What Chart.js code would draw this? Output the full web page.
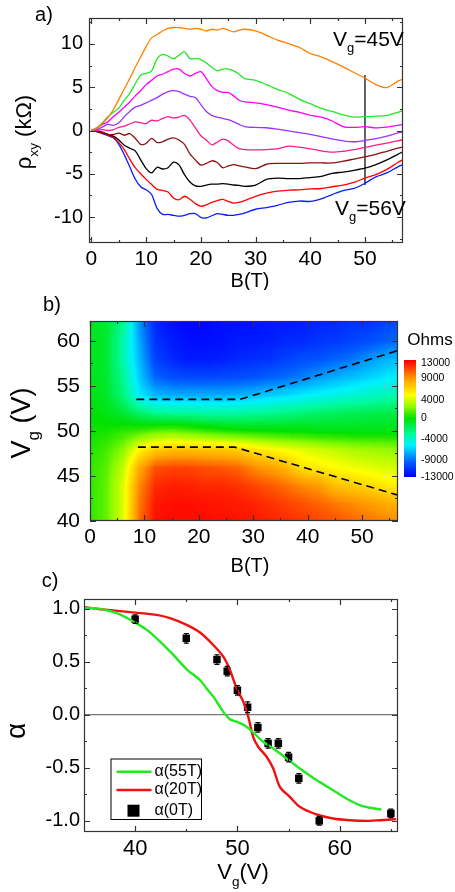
<!DOCTYPE html>
<html>
<head>
<meta charset="utf-8">
<script src="https://cdn.jsdelivr.net/npm/chart.js@4.4.1/dist/chart.umd.min.js"></script>
<style>
  html, body { margin: 0; padding: 0; background: #fff; }
  #page { position: relative; width: 455px; height: 892px; overflow: hidden; background: #fff; }
  canvas { position: absolute; left: 0; }
</style>
</head>
<body>
<div id="page">
  <canvas id="chartA" width="455" height="290" style="top:0px"></canvas>
  <canvas id="chartB" width="455" height="290" style="top:290px"></canvas>
  <canvas id="chartC" width="455" height="332" style="top:560px"></canvas>
</div>
<script>
// ---- panel a: rho_xy(B) for several gate voltages (kOhm) ----
const fieldB = [0,1,2,3,4,5,6,7,8,9,10,11,12,13,14,15,16,17,18,19,20,21,22,23,24,25,26,27,28,30,32,34,36,38,40,42,44,46,48,50,52,54,56,57];
const rhoOrange  = [0,0.3,0.8,1.5,2.4,3.6,4.8,6.0,7.3,8.5,9.7,10.7,11.1,11.5,11.8,11.9,11.9,11.8,11.7,11.8,11.7,11.5,11.7,11.6,11.8,11.6,11.4,11.6,11.7,11.5,11.0,10.45,10.05,9.6,8.9,8.5,7.95,7.35,6.7,6.05,5.3,4.95,5.7,5.95];
const rhoGreen   = [0,0.3,0.9,1.6,2.1,2.6,3.5,4.3,5.4,6.4,6.6,6.9,8.3,8.8,8.6,8.3,8.7,9.1,8.3,8.3,8.2,7.8,7.3,6.9,7.1,7.1,6.9,6.5,6.0,5.8,5.3,4.75,4.3,3.6,3.1,2.55,2.2,1.8,1.55,1.6,1.65,1.75,2.1,2.3];
const rhoMagenta = [0,0.3,0.7,1.0,1.6,2.1,2.7,3.3,4.0,4.6,5.3,5.8,6.3,6.5,6.8,7.1,7.1,6.6,6.3,6.6,6.8,6.0,5.1,4.6,4.4,4.4,4.0,3.5,3.3,3.2,3.0,2.7,2.35,2.1,1.75,1.55,1.1,0.45,0.35,0.45,0.3,0.4,0.6,0.7];
const rhoViolet  = [0,0.1,0.4,0.7,0.6,0.9,1.6,2.2,2.7,2.9,3.2,3.5,3.8,4.2,4.5,4.6,4.5,4.2,3.95,3.8,3.0,2.2,1.75,1.55,1.4,1.25,1.0,0.7,0.45,0.35,0.32,0.15,-0.05,-0.25,-0.45,-0.7,-0.98,-1.2,-1.3,-1.15,-0.95,-0.65,-0.28,-0.15];
const rhoPink    = [0,0,0.1,0,0.1,0.35,0.5,0.75,1.0,0.9,0.8,1.2,1.1,1.4,1.6,1.45,1.55,1.75,1.2,0.3,-0.6,-1.1,-1.65,-1.35,-1.0,-1.2,-1.7,-2.1,-2.2,-2.23,-2.2,-2.12,-1.8,-1.93,-2.12,-2.35,-2.5,-2.4,-2.2,-1.95,-1.7,-1.45,-1.2,-1.05];
const rhoBrown   = [0,-0.1,-0.25,-0.45,-0.45,-0.3,-0.55,-0.35,-0.9,-1.6,-1.5,-0.9,-1.4,-1.3,-1.0,-0.85,-1.1,-1.6,-2.7,-3.4,-4.0,-3.8,-3.5,-3.7,-4.3,-4.1,-3.95,-4.1,-4.2,-4.4,-3.9,-3.8,-3.8,-3.8,-3.75,-3.75,-3.75,-3.55,-3.3,-3.05,-2.75,-2.4,-2.05,-1.9];
const rhoBlack   = [0,-0.1,-0.2,-0.45,-0.65,-1.1,-1.7,-2.05,-2.35,-3.4,-4.4,-4.9,-4.25,-4.45,-4.3,-3.65,-3.97,-5.1,-5.95,-6.4,-6.45,-6.3,-6.2,-6.2,-6.15,-6.2,-6.3,-6.35,-6.45,-6.3,-5.65,-5.5,-5.55,-5.55,-5.45,-5.3,-4.95,-4.8,-4.6,-4.35,-3.95,-3.4,-2.75,-2.45];
const rhoRed     = [0,-0.1,-0.25,-0.5,-0.8,-1.4,-2.2,-3.3,-4.3,-5.0,-5.65,-6.25,-6.8,-6.93,-7.1,-7.8,-8.0,-7.6,-7.95,-8.45,-8.75,-8.6,-8.3,-8.1,-7.95,-8.2,-8.4,-8.3,-8.1,-7.6,-7.25,-7.0,-6.9,-6.85,-6.75,-6.7,-6.5,-6.3,-6.0,-5.5,-5.1,-4.5,-3.7,-3.35];
const rhoBlue    = [0,-0.15,-0.35,-0.6,-0.85,-1.6,-2.8,-4.2,-5.6,-6.5,-6.85,-7.4,-9.0,-9.7,-9.7,-9.8,-9.9,-9.8,-9.6,-9.6,-10.05,-10.1,-9.85,-9.6,-9.7,-9.8,-9.8,-9.7,-9.55,-9.1,-8.9,-8.65,-8.3,-8.15,-8.2,-7.9,-7.4,-6.95,-6.7,-6.1,-5.35,-4.9,-4.2,-3.9];
const markB = [50, 50];
const markRho = [6.4, -6.3];

// ---- panel b: rho_xy map (kOhm), rows from Vg = 62 V down to 40 V ----
const heatB = [0,3,6,9,12,15,18,21,24,27,30,33,36,39,42,45,48,51,54,57];
const heatV = [62,60,58,56,54,52,50,48,46,44,42,40];
const rhoV62 = [-0.5,-1,-3,-8,-11.5,-12.5,-12.8,-12.8,-12.5,-12.5,-12.3,-12,-12,-11.8,-11.5,-11.3,-11,-11,-10.5,-10];
const rhoV60 = [-0.5,-1,-3.5,-7.5,-11,-12,-12.5,-12.5,-12.3,-12,-12,-11.8,-11.5,-11.3,-11,-10.8,-10.5,-10,-9.5,-9];
const rhoV58 = [-0.5,-1,-3.5,-7,-10.5,-11.5,-12,-12,-11.8,-11.5,-11.2,-11,-10.5,-10,-9.8,-9.3,-8.8,-8,-7.3,-6.8];
const rhoV56 = [-0.5,-1,-3,-6.5,-9.3,-10,-10.3,-10.3,-10.2,-10,-9.8,-9.4,-9,-8.5,-7.8,-7.3,-6.8,-6.3,-5.8,-5.3];
const rhoV54 = [-0.3,-0.8,-2.5,-5.5,-7,-7.2,-7.2,-7.2,-7.2,-7,-6.8,-6.4,-6,-5.6,-5.2,-4.8,-4.4,-4,-3.7,-3.4];
const rhoV52 = [0,-0.3,-1,-2,-2.8,-3,-3,-3.2,-3.2,-3.2,-3,-2.8,-2.5,-2.2,-2,-1.8,-1.6,-1.5,-1.3,-1.2];
const rhoV50 = [0.2,0.4,0.8,1.2,1.8,2,1.6,1.2,0.8,0.5,0.3,0.2,0,0,-0.2,-0.2,-0.3,-0.3,-0.3,-0.3];
const rhoV48 = [0.6,1.2,2.6,5.5,7,7.5,7.5,7.3,7.2,7,6.2,5.5,5,4.5,4,3.6,3.2,3,2.8,2.6];
const rhoV46 = [0.8,1.6,3.8,8.5,11,11.3,11.3,11,10.8,10.5,9.5,8.8,8,6.3,5.8,5.3,4.9,4.6,4.3,4.1];
const rhoV44 = [0.8,1.8,4.5,9.5,12,12.3,12.2,12,12,11.8,11.3,10.8,10.2,9.5,9,7.5,7.2,6.7,6.0,5.6];
const rhoV42 = [0.8,1.8,4.5,10,12.5,12.7,12.7,12.6,12.5,12.4,12.2,11.8,11.4,11,10.5,10,9.5,9,8.5,8];
const rhoV40 = [0.8,1.8,4.5,10.3,12.7,12.8,12.8,12.8,12.7,12.6,12.5,12.2,12,11.7,11.3,11,10.6,10.2,9.8,9.3];
const heatGrid = [rhoV62, rhoV60, rhoV58, rhoV56, rhoV54, rhoV52, rhoV50, rhoV48, rhoV46, rhoV44, rhoV42, rhoV40];
const upperB = [8.5, 27.6, 57];
const upperV = [53.5, 53.5, 59];
const lowerB = [8.8, 26.6, 57];
const lowerV = [48.2, 48.2, 42.8];
const cbarTicks = [-13000, -9000, -4000, 0, 4000, 9000, 13000];

// ---- panel c: alpha(Vg) ----
const vg55 = [35.06,36.59,38.21,39.84,41.14,42.44,43.74,45.04,46.34,46.99,47.64,48.29,48.78,49.27,49.92,50.89,51.54,52.52,53.5,54.8,56.1,57.72,59.35,60.65,61.95,62.93,64.07];
const alpha55 = [1.009,0.997,0.956,0.877,0.799,0.689,0.563,0.428,0.327,0.248,0.17,0.075,0.006,-0.044,-0.066,-0.113,-0.167,-0.255,-0.318,-0.412,-0.506,-0.616,-0.711,-0.789,-0.852,-0.877,-0.893];
const vg20 = [35.06,36.59,40,42.11,43.41,45.04,46.34,47.64,48.62,49.27,49.92,50.57,51.06,51.54,52.03,52.85,53.5,54.15,55.12,56.1,57.72,59.35,60.98,62.6,63.9,65.53];
const alpha20 = [1.013,0.994,0.962,0.94,0.909,0.846,0.774,0.657,0.547,0.421,0.248,0.123,-0.019,-0.208,-0.302,-0.396,-0.506,-0.679,-0.774,-0.868,-0.94,-0.978,-0.994,-1.0,-0.994,-0.984];
const vg0 = [40,45,48,49,50,51,52,53,54,55,56,58,65];
const alpha0 = [0.90,0.72,0.52,0.41,0.23,0.07,-0.12,-0.27,-0.27,-0.40,-0.60,-1.00,-0.93];
const alpha0Err = [0.04,0.045,0.045,0.045,0.045,0.05,0.045,0.045,0.045,0.045,0.045,0.04,0.04];
const zeroV = [35, 65.7];

const FONT = '"Liberation Sans", Arial, Helvetica, sans-serif';
Chart.defaults.font.family = FONT;
Chart.defaults.color = '#000';

// colour map of the Ohms bar
const cbarPos = [0, 0.143, 0.328, 0.5, 0.657, 0.843, 1];
const jetStops = [
  [0, [0, 0, 255]], [0.12, [0, 90, 255]], [0.2, [0, 170, 255]], [0.27, [0, 240, 255]],
  [0.37, [0, 250, 150]], [0.5, [0, 225, 0]], [0.6, [140, 250, 0]], [0.7, [255, 255, 0]],
  [0.85, [255, 150, 0]], [1, [255, 0, 0]]
];
function ohmToPos(v) {
  if (v <= cbarTicks[0]) return 0;
  for (let i = 1; i < cbarTicks.length; i++) {
    if (v <= cbarTicks[i]) {
      const f = (v - cbarTicks[i - 1]) / (cbarTicks[i] - cbarTicks[i - 1]);
      return cbarPos[i - 1] + f * (cbarPos[i] - cbarPos[i - 1]);
    }
  }
  return 1;
}
let lutCache = null;
function buildLut() {
  if (lutCache) return lutCache;
  lutCache = [];
  for (let i = 0; i < 256; i++) {
    const t = i / 255;
    let k = 1;
    while (k < jetStops.length - 1 && jetStops[k][0] < t) k++;
    const [t0, c0] = jetStops[k - 1], [t1, c1] = jetStops[k];
    const f = Math.min(1, Math.max(0, (t - t0) / (t1 - t0)));
    lutCache.push(c0.map((c, j) => Math.round(c + f * (c1[j] - c))));
  }
  return lutCache;
}

function pts(xs, ys) { return xs.map((x, i) => ({ x, y: ys[i] })); }

function richText(ctx, parts, x, y, size, rotate, align) {
  ctx.save();
  ctx.translate(x, y);
  if (rotate) ctx.rotate(-Math.PI / 2);
  const fontOf = sub => `${sub ? size * 0.62 : size}px ${FONT}`;
  const widths = parts.map(([t, sub]) => { ctx.font = fontOf(sub); return ctx.measureText(t).width; });
  const total = widths.reduce((a, b) => a + b, 0);
  let cx = align === 'left' ? 0 : -total / 2;
  ctx.fillStyle = '#000';
  ctx.textAlign = 'left';
  ctx.textBaseline = 'middle';
  parts.forEach(([t, sub], i) => {
    ctx.font = fontOf(sub);
    ctx.fillText(t, cx, sub ? size * 0.42 : 0);
    cx += widths[i];
  });
  ctx.restore();
}

const textPlugin = {
  id: 'texts',
  afterDraw(chart, args, o) {
    o.items.forEach(it => richText(chart.ctx, it.parts, it.x, it.y, it.size, it.rotate, it.align));
  }
};

// closed frame with inward ticks on all four sides
const framePlugin = {
  id: 'frame',
  afterDatasetsDraw(chart, args, o) {
    const { ctx, chartArea: a, scales: { x, y } } = chart;
    ctx.save();
    ctx.strokeStyle = '#333';
    ctx.lineWidth = 1.2;
    ctx.beginPath();
    const tx = (v, len) => {
      const p = Math.round(x.getPixelForValue(v)) + 0.5;
      ctx.moveTo(p, a.bottom); ctx.lineTo(p, a.bottom - len);
      ctx.moveTo(p, a.top); ctx.lineTo(p, a.top + len);
    };
    const ty = (v, len) => {
      const p = Math.round(y.getPixelForValue(v)) + 0.5;
      ctx.moveTo(a.left, p); ctx.lineTo(a.left + len, p);
      ctx.moveTo(a.right, p); ctx.lineTo(a.right - len, p);
    };
    o.xMajor.forEach(v => tx(v, 6));
    o.xMinor.forEach(v => tx(v, 3));
    o.yMajor.forEach(v => ty(v, 6));
    o.yMinor.forEach(v => ty(v, 3));
    ctx.stroke();
    ctx.strokeRect(a.left + 0.5, a.top + 0.5, a.width - 1, a.height - 1);
    ctx.restore();
  }
};

function axis(min, max, vals, size, pad, box, isX, fmt) {
  return {
    type: 'linear', min, max,
    grid: { display: false, drawTicks: false },
    border: { display: false },
    afterBuildTicks: s => { s.ticks = vals.map(v => ({ value: v })); },
    afterFit: s => { if (isX) s.height = box; else s.width = box; },
    ticks: { font: { size }, color: '#000', padding: pad, autoSkip: false, maxRotation: 0,
             callback: fmt || (v => String(v)) }
  };
}

const baseOpts = { responsive: false, animation: false, devicePixelRatio: 1, events: [] };

// ===== panel a =====
const curveColors = ['#ff8000', '#22e822', '#ff00ff', '#9933ff', '#ff1a8c', '#8b1010', '#000000', '#ff0000', '#0a1aff'];
const curves = [rhoOrange, rhoGreen, rhoMagenta, rhoViolet, rhoPink, rhoBrown, rhoBlack, rhoRed, rhoBlue];
const curveLabels = ['Vg=45V', 'green', 'magenta', 'violet', 'pink', 'brown', 'black', 'red', 'Vg=56V'];
const dsA = curves.map((c, i) => ({
  label: curveLabels[i], data: pts(fieldB, c), showLine: true, borderColor: curveColors[i],
  borderWidth: 1.3, pointRadius: 0, tension: 0.3
}));
dsA.push({ label: 'mark', data: pts(markB, markRho), showLine: true, borderColor: '#222', borderWidth: 1.4, pointRadius: 0 });

new Chart(document.getElementById('chartA'), {
  type: 'scatter',
  data: { datasets: dsA },
  options: {
    ...baseOpts,
    layout: { padding: { top: 9, right: 52, left: 0, bottom: 0 } },
    plugins: {
      legend: { display: false }, tooltip: { enabled: false },
      frame: { xMajor: [0, 10, 20, 30, 40, 50], xMinor: [5, 15, 25, 35, 45, 55],
               yMajor: [-10, -5, 0, 5, 10], yMinor: [-12.5, -7.5, -2.5, 2.5, 7.5, 12.5] },
      texts: { items: [
        { parts: [['a)']], x: 44, y: 15, size: 20 },
        { parts: [['ρ'], ['xy', 1], [' (kΩ)']], x: 25, y: 132, size: 22, rotate: true },
        { parts: [['B(T)']], x: 250, y: 281, size: 20 },
        { parts: [['V'], ['g', 1], ['=45V']], x: 333, y: 40, size: 21, align: 'left' },
        { parts: [['V'], ['g', 1], ['=56V']], x: 335, y: 209, size: 21, align: 'left' }
      ] }
    },
    scales: {
      x: axis(-0.45, 56.95, [0, 10, 20, 30, 40, 50], 21, 4, 47, true),
      y: axis(-13, 13, [-10, -5, 0, 5, 10], 20, 6, 89, false)
    }
  },
  plugins: [framePlugin, textPlugin]
});

// ===== panel b =====
const heatPlugin = {
  id: 'heat',
  beforeDatasetsDraw(chart) {
    const { ctx, chartArea: a, scales: { x, y } } = chart;
    const cols = heatB.length, rows = heatV.length;
    // source image with one replicated cell on each side, red channel = colour-bar position
    const src = document.createElement('canvas');
    src.width = cols + 2; src.height = rows + 2;
    const sctx = src.getContext('2d');
    const img = sctx.createImageData(cols + 2, rows + 2);
    for (let r = 0; r < rows + 2; r++) {
      for (let c = 0; c < cols + 2; c++) {
        const v = heatGrid[Math.min(rows - 1, Math.max(0, r - 1))][Math.min(cols - 1, Math.max(0, c - 1))];
        const k = 4 * (r * (cols + 2) + c);
        img.data[k] = Math.round(255 * ohmToPos(v * 1000));
        img.data[k + 3] = 255;
      }
    }
    sctx.putImageData(img, 0, 0);
    const cw = x.getPixelForValue(heatB[1]) - x.getPixelForValue(heatB[0]);
    const rh = y.getPixelForValue(heatV[1]) - y.getPixelForValue(heatV[0]);
    const x0 = x.getPixelForValue(heatB[0]) - cw * 1.5;
    const y0 = y.getPixelForValue(heatV[0]) - rh * 1.5;
    const W = Math.ceil(a.width), H = Math.ceil(a.height);
    const mid = document.createElement('canvas');
    mid.width = W; mid.height = H;
    const mctx = mid.getContext('2d');
    mctx.imageSmoothingEnabled = true;
    mctx.drawImage(src, x0 - a.left, y0 - a.top, cw * (cols + 2), rh * (rows + 2));
    const px = mctx.getImageData(0, 0, W, H);
    const lut = buildLut();
    for (let i = 0; i < px.data.length; i += 4) {
      const c = lut[px.data[i]];
      px.data[i] = c[0]; px.data[i + 1] = c[1]; px.data[i + 2] = c[2]; px.data[i + 3] = 255;
    }
    mctx.putImageData(px, 0, 0);
    ctx.drawImage(mid, a.left, a.top);
  }
};

const cbarPlugin = {
  id: 'cbar',
  afterDraw(chart, args, o) {
    const { ctx } = chart;
    const lut = buildLut();
    for (let i = 0; i < o.h; i++) {
      const c = lut[Math.round(255 * (1 - i / (o.h - 1)))];
      ctx.fillStyle = `rgb(${c[0]},${c[1]},${c[2]})`;
      ctx.fillRect(o.x, o.y + i, o.w, 1);
    }
    ctx.fillStyle = '#000';
    ctx.font = `10.5px ${FONT}`;
    ctx.textAlign = 'left';
    ctx.textBaseline = 'middle';
    cbarTicks.forEach((v, i) => {
      const ly = Math.max(o.y + 3, o.y + (1 - cbarPos[i]) * o.h);
      ctx.fillText(String(v), o.x + o.w + 5, ly);
    });
    ctx.font = `17px ${FONT}`;
    ctx.textAlign = 'center';
    ctx.fillText('Ohms', o.x + 26, o.y - 20);
  }
};

new Chart(document.getElementById('chartB'), {
  type: 'scatter',
  data: { datasets: [
    { label: 'upper', data: pts(upperB, upperV), showLine: true, borderColor: '#000', borderWidth: 1.6, borderDash: [8, 5], pointRadius: 0 },
    { label: 'lower', data: pts(lowerB, lowerV), showLine: true, borderColor: '#000', borderWidth: 1.6, borderDash: [8, 5], pointRadius: 0 }
  ] },
  options: {
    ...baseOpts,
    layout: { padding: { top: 31, right: 57, left: 0, bottom: 0 } },
    plugins: {
      legend: { display: false }, tooltip: { enabled: false },
      frame: { xMajor: [0, 10, 20, 30, 40, 50], xMinor: [5, 15, 25, 35, 45, 55],
               yMajor: [40, 45, 50, 55, 60], yMinor: [42.5, 47.5, 52.5, 57.5] },
      cbar: { x: 404, y: 70, w: 12, h: 117 },
      texts: { items: [
        { parts: [['b)']], x: 52, y: 15, size: 20 },
        { parts: [['V'], ['g', 1], [' (V)']], x: 23, y: 133, size: 27, rotate: true },
        { parts: [['B(T)']], x: 250, y: 276, size: 20 }
      ] }
    },
    scales: {
      x: axis(0, 56.6, [0, 10, 20, 30, 40, 50], 21, 4, 59, true),
      y: axis(40, 62.2, [40, 45, 50, 55, 60], 21, 10, 90, false)
    }
  },
  plugins: [heatPlugin, framePlugin, cbarPlugin, textPlugin]
});

// ===== panel c =====
const errPlugin = {
  id: 'errbars',
  afterDatasetsDraw(chart) {
    const { ctx, scales: { x, y } } = chart;
    ctx.save();
    ctx.strokeStyle = '#000';
    ctx.lineWidth = 1.2;
    ctx.beginPath();
    vg0.forEach((v, i) => {
      const px = x.getPixelForValue(v);
      const top = y.getPixelForValue(alpha0[i] + alpha0Err[i]);
      const bot = y.getPixelForValue(alpha0[i] - alpha0Err[i]);
      ctx.moveTo(px, top); ctx.lineTo(px, bot);
      ctx.moveTo(px - 2.5, top); ctx.lineTo(px + 2.5, top);
      ctx.moveTo(px - 2.5, bot); ctx.lineTo(px + 2.5, bot);
    });
    ctx.stroke();
    ctx.restore();
  }
};

const legendPlugin = {
  id: 'boxLegend',
  afterDraw(chart, args, o) {
    const { ctx } = chart;
    const ds = chart.data.datasets;
    ctx.save();
    ctx.fillStyle = '#fff';
    ctx.fillRect(o.x, o.y, o.w, o.h);
    ctx.strokeStyle = '#000';
    ctx.lineWidth = 1;
    ctx.strokeRect(o.x + 0.5, o.y + 0.5, o.w, o.h);
    ctx.font = `16px ${FONT}`;
    ctx.textAlign = 'left';
    ctx.textBaseline = 'middle';
    o.rows.forEach((ry, i) => {
      const d = ds[i];
      if (d.showLine) {
        ctx.strokeStyle = d.borderColor;
        ctx.lineWidth = 2.5;
        ctx.beginPath();
        ctx.moveTo(o.x + 6, ry); ctx.lineTo(o.x + 41, ry);
        ctx.stroke();
      } else {
        ctx.fillStyle = '#000';
        ctx.fillRect(o.x + 17, ry - 6, 12, 12);
      }
      ctx.fillStyle = '#000';
      ctx.fillText(d.label, o.x + 44, ry);
    });
    ctx.restore();
  }
};

new Chart(document.getElementById('chartC'), {
  type: 'scatter',
  data: { datasets: [
    { label: 'α(55T)', data: pts(vg55, alpha55), showLine: true, borderColor: '#22e822', borderWidth: 2.4, pointRadius: 0, tension: 0.3 },
    { label: 'α(20T)', data: pts(vg20, alpha20), showLine: true, borderColor: '#f01010', borderWidth: 2.4, pointRadius: 0, tension: 0.3 },
    { label: 'α(0T)', data: pts(vg0, alpha0), showLine: false, pointStyle: 'rect', pointRadius: 5.3,
      backgroundColor: '#000', borderColor: '#000', borderWidth: 0 },
    { label: 'zero', data: pts(zeroV, [0, 0]), showLine: true, borderColor: '#555', borderWidth: 1, pointRadius: 0 }
  ] },
  options: {
    ...baseOpts,
    layout: { padding: { top: 39, right: 57, left: 0, bottom: 0 } },
    plugins: {
      legend: { display: false }, tooltip: { enabled: false },
      frame: { xMajor: [40, 50, 60], xMinor: [45, 55, 65],
               yMajor: [-1, -0.5, 0, 0.5, 1], yMinor: [-0.75, -0.25, 0.25, 0.75] },
      boxLegend: { x: 110.5, y: 198.5, w: 90.5, h: 60.5, rows: [211.7, 230, 250.7] },
      texts: { items: [
        { parts: [['c)']], x: 50, y: 21, size: 20 },
        { parts: [['α']], x: 17, y: 171, size: 28, rotate: true },
        { parts: [['V'], ['g', 1], ['(V)']], x: 243, y: 313, size: 22 }
      ] }
    },
    scales: {
      x: axis(35, 65.7, [40, 50, 60], 22, 4, 60, true),
      y: axis(-1.105, 1.09, [-1, -0.5, 0, 0.5, 1], 20, 4, 84, false, v => v.toFixed(1))
    }
  },
  plugins: [framePlugin, errPlugin, legendPlugin, textPlugin]
});
</script>
</body>
</html>
